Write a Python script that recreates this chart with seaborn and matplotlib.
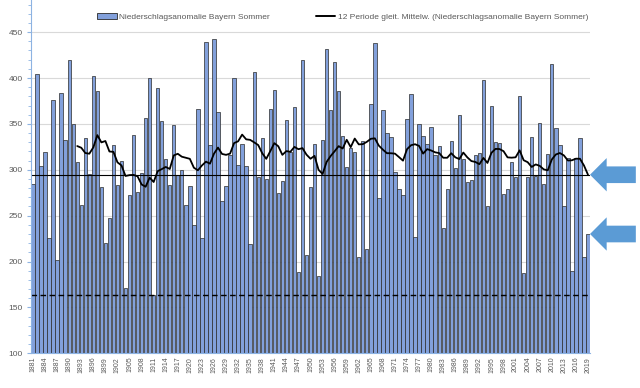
import numpy as np
import pandas as pd
import seaborn as sns
import matplotlib.pyplot as plt
from matplotlib.patches import Patch
from matplotlib.lines import Line2D
from matplotlib.ticker import MultipleLocator

jahre = list(range(1881, 2020))
niederschlag = [284, 404, 304, 319, 226, 376, 202, 384, 332, 420,
                350, 309, 262, 335, 295, 402, 386, 281, 220, 247,
                327, 283, 310, 171, 273, 338, 276, 296, 356, 400,
                163, 389, 353, 312, 283, 349, 294, 300, 262, 282,
                240, 366, 226, 439, 327, 442, 363, 266, 282, 316,
                400, 305, 328, 304, 219, 406, 292, 335, 290, 366,
                387, 275, 288, 354, 319, 368, 189, 420, 207, 281,
                328, 184, 332, 432, 365, 417, 386, 337, 303, 324,
                319, 205, 331, 214, 372, 438, 269, 365, 340, 336,
                298, 279, 272, 355, 383, 227, 350, 337, 328, 347,
                316, 326, 237, 279, 331, 302, 360, 312, 287, 289,
                316, 318, 398, 260, 370, 330, 329, 274, 279, 308,
                292, 380, 187, 292, 336, 293, 351, 284, 317, 415,
                345, 327, 261, 313, 190, 313, 335, 205, 230]
fenster = 12
label_balken = 'Niederschlagsanomalie Bayern Sommer'
label_linie = '12 Periode gleit. Mittelw. (Niederschlagsanomalie Bayern Sommer)'

df = pd.DataFrame({'Jahr': jahre, 'Wert': niederschlag})
df['pos'] = np.arange(len(df))
df['gleit'] = df['Wert'].rolling(fenster).mean()
letzter_mittel = df['gleit'].iloc[-1]
minimum = df['Wert'].min()

sns.set_style('white')
plt.rcParams['font.family'] = ['Liberation Sans', 'DejaVu Sans']

blau = '#82a0db'
kante = '#2a2a2a'
achse = '#8db3e2'
grau = '#595959'

fig = plt.figure(figsize=(6.4, 3.88), dpi=100)
ax = fig.add_axes([31 / 640, 34.7 / 388, 559 / 640, 353.3 / 388])

ax.yaxis.grid(True, color='#d9d9d9', lw=0.8)
ax.set_axisbelow(True)

sns.barplot(data=df, x='Jahr', y='Wert', color=blau, edgecolor=kante,
            linewidth=0.5, width=0.84, saturation=1, errorbar=None, ax=ax)
sns.lineplot(x=df['pos'], y=df['gleit'], color='black', lw=1.3, ax=ax)

ax.axhline(letzter_mittel, color='black', lw=0.8)
ax.axhline(minimum, color='black', lw=1.0, ls=(0, (4, 2.5)))

ax.set_xlim(-0.5, len(jahre) - 0.5)
ax.set_ylim(100, 485)
ax.set_yticks(range(100, 451, 50))
ax.yaxis.set_minor_locator(MultipleLocator(10))
ax.set_xticks(df['pos'][::3])
ax.set_xticklabels(df['Jahr'][::3], rotation=90)
ax.set_xlabel('')
ax.set_ylabel('')

for s in ['top', 'right']:
    ax.spines[s].set_visible(False)
for s in ['left', 'bottom']:
    ax.spines[s].set_color(achse)
    ax.spines[s].set_linewidth(0.8)

ax.tick_params(axis='y', which='major', length=3, color=achse, labelsize=6,
               labelcolor=grau, pad=3, left=True)
ax.tick_params(axis='y', which='minor', length=2, color=achse, left=True)
ax.tick_params(axis='x', length=0, labelsize=5, labelcolor=grau, pad=2.5)

handles = [Patch(facecolor=blau, edgecolor=kante, linewidth=0.6),
           Line2D([], [], color='black', lw=1.4)]
ax.legend(handles, [label_balken, label_linie], loc='center',
          bbox_to_anchor=(0.558, 0.952), ncol=2, frameon=False, fontsize=6,
          labelcolor=grau, handlelength=2.3, handletextpad=0.35,
          columnspacing=5.5)

# Pfeile rechts
pfeil = dict(arrowstyle='simple,head_length=12,head_width=24,tail_width=12',
             color='#5b9bd5', lw=0, shrinkA=0, shrinkB=0, mutation_scale=1)
for wert in [letzter_mittel, niederschlag[-1]]:
    ax.annotate('', xy=(len(jahre) - 0.5, wert), xytext=(33, 0),
                textcoords='offset points', arrowprops=pfeil,
                annotation_clip=False)

fig.savefig('out.png', dpi=100)
